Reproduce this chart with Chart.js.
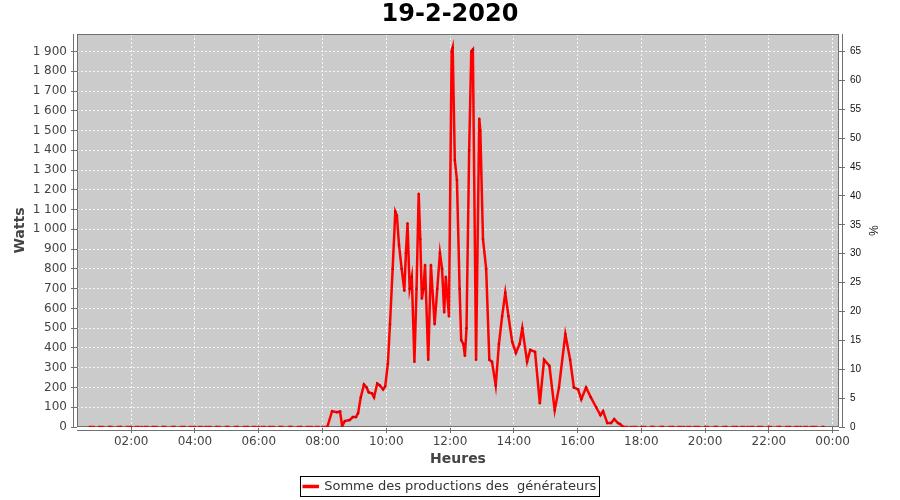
<!DOCTYPE html>
<html>
<head>
<meta charset="utf-8">
<title>19-2-2020</title>
<script src="https://cdn.jsdelivr.net/npm/chart.js@4"></script>
<style>
  html, body { margin: 0; padding: 0; background: #fff; }
</style>
</head>
<body>
<canvas id="prodChart" width="900" height="500"></canvas>
<script>
// heure de la mesure
const times = [
  '00:42', '01:00', '01:20', '01:40', '02:00', '02:20', '02:40', '03:00', '03:20', '03:40',
  '04:00', '04:20', '04:40', '05:00', '05:20', '05:40', '06:00', '06:20', '06:40', '07:00',
  '07:20', '07:40', '08:00', '08:09',
  '08:18', '08:27', '08:33', '08:37', '08:42', '08:51', '08:57', '09:03', '09:07', '09:12',
  '09:18', '09:23', '09:27', '09:33', '09:37', '09:43', '09:48', '09:54', '09:58', '10:03',
  '10:07', '10:12', '10:17', '10:20', '10:24', '10:29', '10:34', '10:37', '10:40', '10:44',
  '10:48', '10:53', '10:57', '11:01', '11:04', '11:07', '11:10', '11:13', '11:19', '11:24',
  '11:31', '11:36', '11:41', '11:45', '11:49', '11:52', '11:58', '12:03', '12:05', '12:09',
  '12:13', '12:18', '12:21', '12:25', '12:28', '12:31', '12:36', '12:40', '12:43', '12:49',
  '12:55', '12:57', '13:02', '13:08', '13:14', '13:19', '13:26', '13:32', '13:38', '13:44',
  '13:50', '13:57', '14:04', '14:11', '14:16', '14:25', '14:31', '14:40', '14:49', '14:57',
  '15:07', '15:17', '15:25', '15:37', '15:46', '15:53', '16:01', '16:07', '16:16', '16:25',
  '16:35', '16:43', '16:48', '16:56', '17:03', '17:09', '17:16', '17:20', '17:26',
  '17:40', '18:00', '18:20', '18:40', '19:00', '19:20', '19:40', '20:00', '20:20', '20:40',
  '21:00', '21:20', '21:40', '22:00', '22:20', '22:40', '23:00', '23:20', '23:43'
];

// Somme des productions (W)
const watts = [
  0, 0, 0, 0, 0, 0, 0, 0, 0, 0,
  0, 0, 0, 0, 0, 0, 0, 0, 0, 0,
  0, 0, 0, 0,
  80, 75, 78, 5, 30, 35, 50, 50, 70, 150,
  215, 200, 175, 170, 150, 220, 210, 190, 205, 320,
  520, 800, 1090, 1070, 920, 800, 690, 880, 1030, 700,
  760, 330, 700, 1180, 950, 650, 700, 820, 340, 820,
  520, 700, 880, 800, 580, 760, 560, 1900, 1920, 1350,
  1250, 700, 440, 420, 360, 500, 1400, 1900, 1910, 340,
  1560, 1500, 950, 800, 340, 330, 210, 420, 560, 680,
  560, 430, 375, 420, 500, 330, 390, 380, 120, 340,
  310, 85, 200, 470, 340, 200, 190, 140, 200, 150,
  100, 60, 80, 20, 20, 40, 20, 15, 0,
  0, 0, 0, 0, 0, 0, 0, 0, 0, 0,
  0, 0, 0, 0, 0, 0, 0, 0, 0
];

const hourTicks = [2, 4, 6, 8, 10, 12, 14, 16, 18, 20, 22, 24];
const wattTicks = [0, 100, 200, 300, 400, 500, 600, 700, 800, 900, 1000,
                   1100, 1200, 1300, 1400, 1500, 1600, 1700, 1800, 1900];
const pctTicks = [0, 5, 10, 15, 20, 25, 30, 35, 40, 45, 50, 55, 60, 65];

const xMin = 18, xMax = 1452;        // minutes
const wattMax = 1988.6;
const pctMax = wattMax * 65 / 1900;

function toMinutes(t) {
  let p = t.split(':');
  return parseInt(p[0], 10) * 60 + parseInt(p[1], 10);
}

function hhmm(v) {
  let m = v % 1440;
  let h = Math.floor(m / 60), mn = m % 60;
  return String(h).padStart(2, '0') + ':' + String(mn).padStart(2, '0');
}

function spaced(v) {
  return String(v).replace(/\B(?=(\d{3})+(?!\d))/g, ' ');
}

const points = times.map((t, i) => ({ x: toMinutes(t), y: watts[i] }));

// fond gris, cadre et axes décalés façon JFreeChart
const plotFrame = {
  id: 'plotFrame',
  beforeDraw(chart) {
    const { ctx, chartArea: a } = chart;
    ctx.save();
    ctx.fillStyle = '#cbcbcb';
    ctx.fillRect(a.left, a.top, a.right - a.left, a.bottom - a.top);
    ctx.restore();
  },
  beforeDatasetsDraw(chart) {
    const { ctx, chartArea: a } = chart;
    ctx.save();
    ctx.strokeStyle = '#707070';
    ctx.lineWidth = 1;
    ctx.strokeRect(a.left + 0.5, a.top + 0.5, a.right - a.left - 1, a.bottom - a.top - 1);
    ctx.beginPath();
    ctx.moveTo(a.left - 3.5, a.top);
    ctx.lineTo(a.left - 3.5, a.bottom);
    ctx.moveTo(a.right + 3.5, a.top);
    ctx.lineTo(a.right + 3.5, a.bottom);
    ctx.moveTo(a.left, a.bottom + 3.5);
    ctx.lineTo(a.right, a.bottom + 3.5);
    ctx.stroke();
    ctx.restore();
  },
  afterDraw(chart) {
    const ctx = chart.ctx;
    const lg = chart.legend;
    const lab = chart.options.plugins.legend.labels;
    ctx.save();
    ctx.font = '13px "DejaVu Sans"';
    let tw = ctx.measureText(chart.data.datasets[0].label).width;
    let w = lab.boxWidth + 13 / 2 + tw;
    let cx = (lg.left + lg.right) / 2;
    let top = lg.top + lab.padding;
    ctx.strokeStyle = '#000';
    ctx.lineWidth = 1;
    ctx.strokeRect(Math.round(cx - w / 2) - 3.5, Math.round(top) - 3.5, Math.round(w) + 6, 20);
    ctx.restore();
  }
};

Chart.defaults.font.family = '"DejaVu Sans", sans-serif';

const myChart = new Chart('prodChart', {
  type: 'line',
  data: {
    datasets: [{
      label: 'Somme des productions des  générateurs',
      data: points,
      borderColor: '#ff0000',
      backgroundColor: '#ff0000',
      borderWidth: 2.5,
      pointRadius: 1,
      pointStyle: 'rect',
      pointBorderWidth: 1,
      pointBorderColor: '#d00000',
      tension: 0,
      yAxisID: 'y',
      segment: {
        borderDash: c => (c.p0.parsed.y === 0 && c.p1.parsed.y === 0) ? [5, 4] : undefined
      }
    }]
  },
  options: {
    responsive: false,
    animation: false,
    layout: { padding: { left: 0, right: 0, top: 0, bottom: -3 } },
    plugins: {
      title: {
        display: true,
        text: '19-2-2020',
        color: '#000',
        font: { size: 24, weight: 'bold', lineHeight: 1 },
        padding: { top: 3, bottom: 7 }
      },
      legend: {
        position: 'bottom',
        labels: {
          boxWidth: 14,
          boxHeight: 1,
          padding: 12,
          color: '#333',
          font: { size: 13 }
        }
      },
      tooltip: { enabled: false }
    },
    scales: {
      x: {
        type: 'linear',
        min: xMin,
        max: xMax,
        afterBuildTicks: s => { s.ticks = hourTicks.map(h => ({ value: h * 60 })); },
        afterFit: s => { s.height = 41; },
        ticks: {
          autoSkip: false,
          maxRotation: 0,
          padding: 2,
          color: '#444',
          font: { size: 12 },
          callback: v => hhmm(v)
        },
        grid: {
          color: 'rgba(255,255,255,0.85)',
          tickColor: '#707070',
          tickLength: 6,
          lineWidth: 1
        },
        border: { display: false, dash: [2, 2] },
        title: {
          display: true,
          text: 'Heures',
          color: '#444',
          font: { size: 14, weight: 'bold' },
          padding: { top: 0, bottom: 0 }
        }
      },
      y: {
        position: 'left',
        min: 0,
        max: wattMax,
        afterBuildTicks: s => { s.ticks = wattTicks.map(v => ({ value: v })); },
        afterFit: s => { s.width = 77; },
        ticks: {
          padding: 4,
          color: '#444',
          font: { size: 12 },
          callback: v => spaced(v)
        },
        grid: {
          color: 'rgba(255,255,255,0.85)',
          tickColor: '#707070',
          tickLength: 6,
          lineWidth: 1
        },
        border: { display: false, dash: [2, 2] },
        title: {
          display: true,
          text: 'Watts',
          color: '#444',
          font: { size: 14, weight: 'bold' },
          padding: { top: 12, bottom: 0 }
        }
      },
      y2: {
        position: 'right',
        min: 0,
        max: pctMax,
        afterBuildTicks: s => { s.ticks = pctTicks.map(v => ({ value: v })); },
        afterFit: s => { s.width = 61; },
        ticks: {
          padding: 5,
          color: '#111',
          font: { size: 10, family: '"Liberation Sans", sans-serif' }
        },
        grid: {
          drawOnChartArea: false,
          tickColor: '#707070',
          tickLength: 6
        },
        border: { display: false },
        title: {
          display: true,
          text: '%',
          color: '#111',
          font: { size: 12, family: '"Liberation Sans", sans-serif' },
          padding: { top: 20, bottom: 0 }
        }
      }
    }
  },
  plugins: [plotFrame]
});
</script>
</body>
</html>
